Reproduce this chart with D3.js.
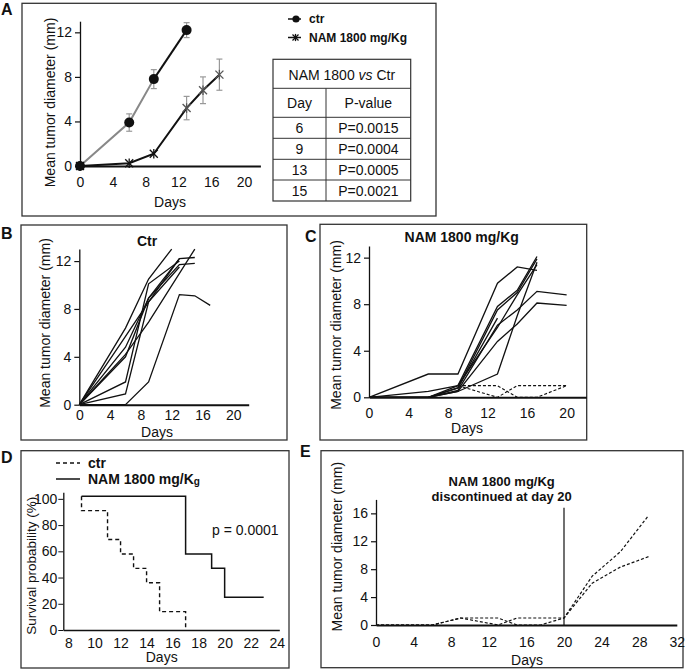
<!DOCTYPE html>
<html><head><meta charset="utf-8">
<script src="https://cdn.jsdelivr.net/npm/d3@7"></script>
<style>
body{margin:0;background:#fff}
text{font-family:"Liberation Sans",Arial,sans-serif;fill:#111}
</style></head>
<body><svg id="fig" width="685" height="670"></svg>
<script>
// ---------- DATA ----------
// Panel A: mean tumour diameter (mm) with error bars
const aCtrDays = [0, 6, 9, 13];
const aCtrMean = [0, 3.9, 7.8, 12.2];
const aCtrErr  = [0, 0.78, 0.85, 0.67];
const aNamDays = [0, 6, 9, 13, 15, 17];
const aNamMean = [0, 0.25, 1.1, 5.2, 6.8, 8.2];
const aNamErr  = [0, 0, 0, 1.05, 1.2, 1.4];
const tableDays = ["6", "9", "13", "15"];
const tablePvals = ["P=0.0015", "P=0.0004", "P=0.0005", "P=0.0021"];
const xTicksA = [0, 4, 8, 12, 16, 20];
const yTicksA = [0, 4, 8, 12];

// Panel B: individual control mice [day, diameter]
const bMice = [
  [[0,0],[6,6.4],[9,10.5],[12,13]],
  [[0,0],[6,5.7],[9,8.6],[13,12.2],[15,12.3]],
  [[0,0],[6,4.8],[9,8.9],[13,11.7],[15,11.8]],
  [[0,0],[6,4.2],[9,6.9],[15,13]],
  [[0,0],[6,1.9],[9,10.1],[13,12.0]],
  [[0,0],[6,0.9],[9,8.6],[13,11.5]],
  [[0,0],[6,4.0],[9,8.9],[13,12.2]],
  [[0,0],[6,0],[9,1.9],[13,9.2],[15,9.1],[17,8.3]]
];

// Panel C: individual NAM-treated mice (solid) and two non-growing mice (dashed)
const cMice = [
  [[0,0],[6,2.0],[9,2.0],[13,9.8],[15,11.2],[17,10.9]],
  [[0,0],[6,0.5],[9,1.0],[13,7.8],[15,9.2],[17,12.1]],
  [[0,0],[6,0],[9,0.8],[13,7.5],[15,9.0],[17,11.9]],
  [[0,0],[6,0],[9,0.5],[13,2.0],[15,7.0],[17,11.6]],
  [[0,0],[6,0],[9,1.0],[13,6.0],[15,8.8],[17,11.4]],
  [[0,0],[6,0],[9,0.6],[13,6.2],[15,7.5],[17,9.1],[20,8.8]],
  [[0,0],[6,0],[9,0.5],[13,4.8],[15,6.3],[17,8.1],[20,7.9]],
  [[0,0],[6,0],[9,0.8],[13,6.8]]
];
const cNonGrowing = [
  [[9,1],[13,1],[15,0],[17,0],[20,1]],
  [[9,1],[13,0],[15,1],[17,1],[20,1]]
];

// Panel D: Kaplan-Meier survival (%) [day, value]
const dCtr = [[9,102],[9,91],[11,91],[11,69],[12,69],[12,58],[13,58],[13,47],[14,47],[14,36],[15,36],[15,14],[17,14],[17,0]];
const dNam = [[9,102],[17,102],[17,58],[19,58],[19,47],[20,47],[20,25],[23,25]];
const pValueD = "p = 0.0001";

// Panel E: NAM discontinued at day 20 [day, diameter]
const eMice = [
  [[0,0],[6,0],[9,1],[13,1],[15,0],[17.5,0],[20,1],[23,7.0],[26,10.5],[29,15.7]],
  [[0,0],[6,0],[9,1],[13,0],[15,1],[20,1],[23,6.0],[26,8.3],[29,9.8]]
];
const stopDay = 20;

// ---------- DRAWING ----------
const svg = d3.select("#fig");
const FS = 14;

function box(x0, y0, x1, y1) {
  svg.append("rect").attr("x", x0).attr("y", y0).attr("width", x1 - x0).attr("height", y1 - y0)
    .attr("fill", "none").attr("stroke", "#333").attr("stroke-width", 1.3);
}
function panelLabel(t, x, y) {
  svg.append("text").attr("x", x).attr("y", y).attr("font-size", 16).attr("font-weight", "bold").text(t);
}
function yTitle(t, cx, cy, fs) {
  svg.append("text").attr("transform", `translate(${cx},${cy}) rotate(-90)`)
    .attr("text-anchor", "middle").attr("dy", "0.35em").attr("font-size", fs || FS).text(t);
}
function cText(t, x, y, fs, bold) {
  return svg.append("text").attr("x", x).attr("y", y).attr("text-anchor", "middle")
    .attr("font-size", fs || FS).attr("font-weight", bold ? "bold" : "normal").text(t);
}
function axes(x, y, xt, yt, xPad, yTickSize) {
  const gy = svg.append("g").attr("transform", `translate(${x.range()[0]},0)`)
    .call(d3.axisLeft(y).tickValues(yt).tickSize(yTickSize).tickPadding(3).tickSizeOuter(0));
  gy.select(".domain").attr("stroke", "#111").attr("stroke-width", 1.3);
  gy.selectAll(".tick line").attr("stroke", "#111").attr("stroke-width", 1.2);
  gy.selectAll("text").attr("font-size", FS).attr("font-family", "Liberation Sans, Arial, sans-serif").attr("fill", "#111");
  const gx = svg.append("g").attr("transform", `translate(0,${y(0)})`)
    .call(d3.axisBottom(x).tickValues(xt).tickSize(0).tickPadding(xPad).tickSizeOuter(0).tickFormat(d3.format("d")));
  gx.select(".domain").attr("stroke", "#111").attr("stroke-width", 2);
  gx.selectAll("text").attr("font-size", FS).attr("font-family", "Liberation Sans, Arial, sans-serif").attr("fill", "#111");
}

// ===== Panel A =====
box(22, 3.3, 436, 216);
panelLabel("A", 1, 14.5);
{
  const x = d3.scaleLinear().domain([0, 22]).range([80, 260.4]);
  const y = d3.scaleLinear().domain([0, 13]).range([166, 21.2]);
  axes(x, y, xTicksA, yTicksA, 11, 5);
  yTitle("Mean tumor diameter (mm)", 50, 102.5);
  cText("Days", 170, 207);
  const line = d3.line().x(d => x(d[0])).y(d => y(d[1]));
  const ctr = aCtrDays.map((d, i) => [d, aCtrMean[i], aCtrErr[i]]);
  const nam = aNamDays.map((d, i) => [d, aNamMean[i], aNamErr[i]]);
  // error bars
  const errs = ctr.concat(nam).filter(d => d[2] > 0);
  const ge = svg.append("g").attr("stroke", "#999").attr("stroke-width", 1.2);
  errs.forEach(d => {
    ge.append("line").attr("x1", x(d[0])).attr("x2", x(d[0])).attr("y1", y(d[1] - d[2])).attr("y2", y(d[1] + d[2]));
    ge.append("line").attr("x1", x(d[0]) - 3).attr("x2", x(d[0]) + 3).attr("y1", y(d[1] - d[2])).attr("y2", y(d[1] - d[2]));
    ge.append("line").attr("x1", x(d[0]) - 3).attr("x2", x(d[0]) + 3).attr("y1", y(d[1] + d[2])).attr("y2", y(d[1] + d[2]));
  });
  svg.append("path").attr("d", line(nam)).attr("fill", "none").attr("stroke", "#111").attr("stroke-width", 2);
  svg.append("path").attr("d", line(ctr.slice(0, 3))).attr("fill", "none").attr("stroke", "#888").attr("stroke-width", 2);
  svg.append("path").attr("d", line(ctr.slice(2))).attr("fill", "none").attr("stroke", "#111").attr("stroke-width", 2);
  const star = (g, cx, cy, r, col) => {
    const s = g.append("g").attr("stroke", col).attr("stroke-width", 1.3);
    s.append("line").attr("x1", cx - r).attr("x2", cx + r).attr("y1", cy - r).attr("y2", cy + r);
    s.append("line").attr("x1", cx - r).attr("x2", cx + r).attr("y1", cy + r).attr("y2", cy - r);
    s.append("line").attr("x1", cx).attr("x2", cx).attr("y1", cy - r * 1.2).attr("y2", cy + r * 1.2);
  };
  nam.forEach(d => star(svg, x(d[0]), y(d[1]), 4, d[0] >= 13 ? "#555" : "#111"));
  svg.selectAll("circle.ac").data(ctr).enter().append("circle").attr("class", "ac")
    .attr("cx", d => x(d[0])).attr("cy", d => y(d[1])).attr("r", 5).attr("fill", "#111");
  // legend
  svg.append("line").attr("x1", 288).attr("x2", 301).attr("y1", 19).attr("y2", 19).attr("stroke", "#111").attr("stroke-width", 1.5);
  svg.append("circle").attr("cx", 296).attr("cy", 19).attr("r", 3.6).attr("fill", "#111");
  svg.append("text").attr("x", 309).attr("y", 23).attr("font-size", 12).attr("font-weight", "bold").text("ctr");
  svg.append("line").attr("x1", 288).attr("x2", 301).attr("y1", 37.5).attr("y2", 37.5).attr("stroke", "#111").attr("stroke-width", 1.5);
  star(svg, 295.5, 37.5, 3, "#111");
  svg.append("text").attr("x", 309).attr("y", 41.5).attr("font-size", 12).attr("font-weight", "bold").text("NAM 1800 mg/Kg");
  // table
  const tx0 = 273, tx1 = 410.7, tmid = 326;
  const rows = [59.3, 88.3, 117.3, 138.3, 159.3, 180, 201];
  svg.append("rect").attr("x", tx0).attr("y", rows[0]).attr("width", tx1 - tx0).attr("height", rows[6] - rows[0])
    .attr("fill", "none").attr("stroke", "#333").attr("stroke-width", 1.2);
  rows.slice(1, 6).forEach(r => svg.append("line").attr("x1", tx0).attr("x2", tx1).attr("y1", r).attr("y2", r).attr("stroke", "#333").attr("stroke-width", 1));
  svg.append("line").attr("x1", tmid).attr("x2", tmid).attr("y1", rows[1]).attr("y2", rows[6]).attr("stroke", "#333").attr("stroke-width", 1);
  const hdr = cText("", (tx0 + tx1) / 2, 79.5);
  hdr.append("tspan").text("NAM 1800 ");
  hdr.append("tspan").attr("font-style", "italic").text("vs");
  hdr.append("tspan").text(" Ctr");
  cText("Day", (tx0 + tmid) / 2, 108);
  cText("P-value", (tmid + tx1) / 2, 108);
  const rb = [133, 154, 174.7, 196];
  tableDays.forEach((d, i) => {
    cText(d, (tx0 + tmid) / 2, rb[i]);
    cText(tablePvals[i], (tmid + tx1) / 2, rb[i]);
  });
}

// ===== Panel B =====
box(21, 225, 287, 440);
panelLabel("B", 1, 238.5);
{
  const x = d3.scaleLinear().domain([0, 22]).range([79.3, 248.7]);
  const y = d3.scaleLinear().domain([0, 13]).range([404.7, 249.1]);
  axes(x, y, xTicksA, yTicksA, 5, 5);
  yTitle("Mean tumor diameter (mm)", 44.7, 323);
  cText("Days", 157, 437);
  cText("Ctr", 147, 245.5, FS, true);
  const line = d3.line().x(d => x(d[0])).y(d => y(d[1]));
  svg.append("g").selectAll("path").data(bMice).enter().append("path")
    .attr("d", line).attr("fill", "none").attr("stroke", "#111").attr("stroke-width", 1.3);
}

// ===== Panel C =====
box(320, 224.3, 586.7, 440);
panelLabel("C", 305, 241.5);
{
  const x = d3.scaleLinear().domain([0, 22]).range([369, 586.4]);
  const y = d3.scaleLinear().domain([0, 13]).range([397.3, 246]);
  axes(x, y, xTicksA, yTicksA, 11, 5);
  yTitle("Mean tumor diameter (mm)", 336, 325);
  cText("Days", 467, 433);
  cText("NAM 1800 mg/Kg", 461.7, 241.5, FS, true);
  const line = d3.line().x(d => x(d[0])).y(d => y(d[1]));
  svg.append("g").selectAll("path").data(cNonGrowing).enter().append("path")
    .attr("d", line).attr("fill", "none").attr("stroke", "#111").attr("stroke-width", 1.1).attr("stroke-dasharray", "3,2");
  svg.append("g").selectAll("path").data(cMice).enter().append("path")
    .attr("d", line).attr("fill", "none").attr("stroke", "#111").attr("stroke-width", 1.3);
}

// ===== Panel D =====
box(21, 450.7, 289, 668);
panelLabel("D", 1, 463);
{
  const x = d3.scaleLinear().domain([7.6, 24.2]).range([63.3, 279.3]);
  const y = d3.scaleLinear().domain([0, 105]).range([630, 492.3]);
  const gy = svg.append("g").attr("transform", "translate(63.3,0)")
    .call(d3.axisLeft(y).tickValues([0, 20, 40, 60, 80, 100]).tickSize(5).tickPadding(1).tickSizeOuter(0));
  gy.select(".domain").attr("stroke", "#111").attr("stroke-width", 1.3);
  gy.selectAll(".tick line").attr("stroke", "#111");
  gy.selectAll("text").attr("font-size", FS).attr("font-family", "Liberation Sans, Arial, sans-serif").attr("fill", "#111");
  const gx = svg.append("g").attr("transform", "translate(0,630)")
    .call(d3.axisBottom(x).tickValues([8, 10, 12, 14, 16, 18, 20, 22, 24]).tickSize(0).tickPadding(8).tickSizeOuter(0));
  gx.select(".domain").attr("stroke", "#111").attr("stroke-width", 1.3);
  gx.selectAll("text").attr("font-size", FS).attr("font-family", "Liberation Sans, Arial, sans-serif").attr("fill", "#111");
  yTitle("Survival probability (%)", 31.7, 565.8, 13.5);
  cText("Days", 161.7, 662);
  const line = d3.line().x(d => x(d[0])).y(d => y(d[1]));
  svg.append("path").attr("d", line(dCtr)).attr("fill", "none").attr("stroke", "#111").attr("stroke-width", 1.4).attr("stroke-dasharray", "4,3");
  svg.append("path").attr("d", line(dNam)).attr("fill", "none").attr("stroke", "#111").attr("stroke-width", 1.5);
  svg.append("text").attr("x", 212).attr("y", 535).attr("font-size", 14).text(pValueD);
  // legend
  svg.append("line").attr("x1", 56).attr("x2", 80).attr("y1", 463).attr("y2", 463).attr("stroke", "#111").attr("stroke-width", 1.4).attr("stroke-dasharray", "4,3");
  svg.append("text").attr("x", 88).attr("y", 467.5).attr("font-size", 14).attr("font-weight", "bold").text("ctr");
  svg.append("line").attr("x1", 56).attr("x2", 80).attr("y1", 479).attr("y2", 479).attr("stroke", "#111").attr("stroke-width", 1.5);
  const lt = svg.append("text").attr("x", 88).attr("y", 484).attr("font-size", 14).attr("font-weight", "bold");
  lt.append("tspan").text("NAM 1800 mg/K");
  lt.append("tspan").attr("font-size", 10).attr("dy", 1).text("g");
}

// ===== Panel E =====
box(321, 450.7, 683, 667.7);
panelLabel("E", 300, 456.5);
{
  const x = d3.scaleLinear().domain([0, 32]).range([376, 676.8]);
  const y = d3.scaleLinear().domain([0, 18]).range([625, 499.4]);
  axes(x, y, d3.range(0, 33, 4), [0, 4, 8, 12, 16], 12, 5);
  yTitle("Mean tumor diameter (mm)", 337.5, 546.7);
  cText("Days", 527, 665);
  cText("NAM 1800 mg/Kg", 501.7, 485.5, 13, true);
  cText("discontinued at day 20", 501.7, 500.5, 13, true);
  svg.append("line").attr("x1", x(stopDay)).attr("x2", x(stopDay)).attr("y1", y(0)).attr("y2", y(16.8))
    .attr("stroke", "#111").attr("stroke-width", 1.2);
  const line = d3.line().x(d => x(d[0])).y(d => y(d[1]));
  svg.append("g").selectAll("path").data(eMice).enter().append("path")
    .attr("d", line).attr("fill", "none").attr("stroke", "#111").attr("stroke-width", 1.2).attr("stroke-dasharray", "3,2");
}
</script></body></html>
